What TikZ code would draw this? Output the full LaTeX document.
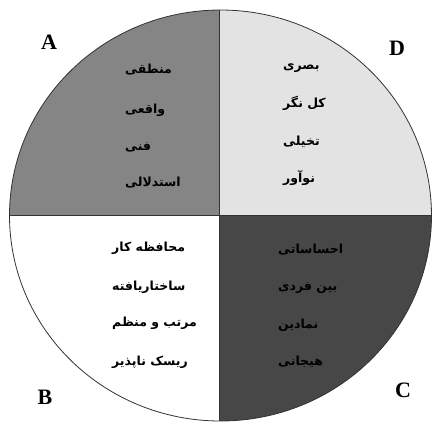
\documentclass[tikz,border=0pt]{standalone}
\usepackage{fontspec}
\newfontfamily\fa[Script=Arabic]{DejaVu Sans}
\newfontfamily\lat{Liberation Serif}
\TeXXeTstate=1
\definecolor{qA}{HTML}{858585}
\definecolor{qD}{HTML}{E3E3E3}
\definecolor{qC}{HTML}{474747}
\tikzset{
  fatext/.style={anchor=west, inner sep=0pt, font=\fa\bfseries\fontsize{12.5}{15}\selectfont},
  letter/.style={inner sep=0pt, font=\lat\bfseries\fontsize{22}{25}\selectfont},
}
\begin{document}
\begin{tikzpicture}[x=1pt,y=-1pt]
\useasboundingbox (0,0) rectangle (433,421);
\fill[white] (0,0) rectangle (433,421);
\coordinate (O) at (219,215.5);
\begin{scope}
  \clip (220.5,215.5) ellipse [x radius=211pt, y radius=205.5pt];
  \fill[qA] (O) rectangle (0,0);
  \fill[qD] (O) rectangle (433,0);
  \fill[white] (O) rectangle (0,421);
  \fill[qC] (O) rectangle (433,421);
\end{scope}
\draw[line width=0.8pt, black!80] (220.5,215.5) ellipse [x radius=211pt, y radius=205.5pt];
\coordinate (T) at (219,10);
\coordinate (Bt) at (219,421);
\coordinate (L) at (9.5,215.5);
\coordinate (R) at (431.5,215.5);
\draw[line width=0.8pt, black!80] (T) -- (Bt);
\draw[line width=0.8pt, black!80] (L) -- (R);

\node[letter] (lA) at (49,42) {A};
\node[letter] (lD) at (397,48) {D};
\node[letter] (lB) at (45,397) {B};
\node[letter] (lC) at (403,390) {C};

\node[fatext] (a1) at (125,70) {\beginR منطقی\endR};
\node[fatext] (a2) at (125,110) {\beginR واقعی\endR};
\node[fatext] (a3) at (125,147) {\beginR فنی\endR};
\node[fatext] (a4) at (125,183) {\beginR استدلالی\endR};

\node[fatext] (d1) at (283,68) {\beginR بصری\endR};
\node[fatext] (d2) at (283,103) {\beginR کل نگر\endR};
\node[fatext] (d3) at (283,142) {\beginR تخیلی\endR};
\node[fatext] (d4) at (283,178) {\beginR نوآور\endR};

\node[fatext] (b1) at (112,248) {\beginR محافظه کار\endR};
\node[fatext] (b2) at (112,287) {\beginR ساختاریافته\endR};
\node[fatext] (b3) at (112,323) {\beginR مرتب و منظم\endR};
\node[fatext] (b4) at (112,362) {\beginR ریسک ناپذیر\endR};

\node[fatext] (c1) at (278,250) {\beginR احساساتی\endR};
\node[fatext] (c2) at (278,288) {\beginR بین فردی\endR};
\node[fatext] (c3) at (278,325) {\beginR نمادین\endR};
\node[fatext] (c4) at (278,362) {\beginR هیجانی\endR};
\end{tikzpicture}
\end{document}
